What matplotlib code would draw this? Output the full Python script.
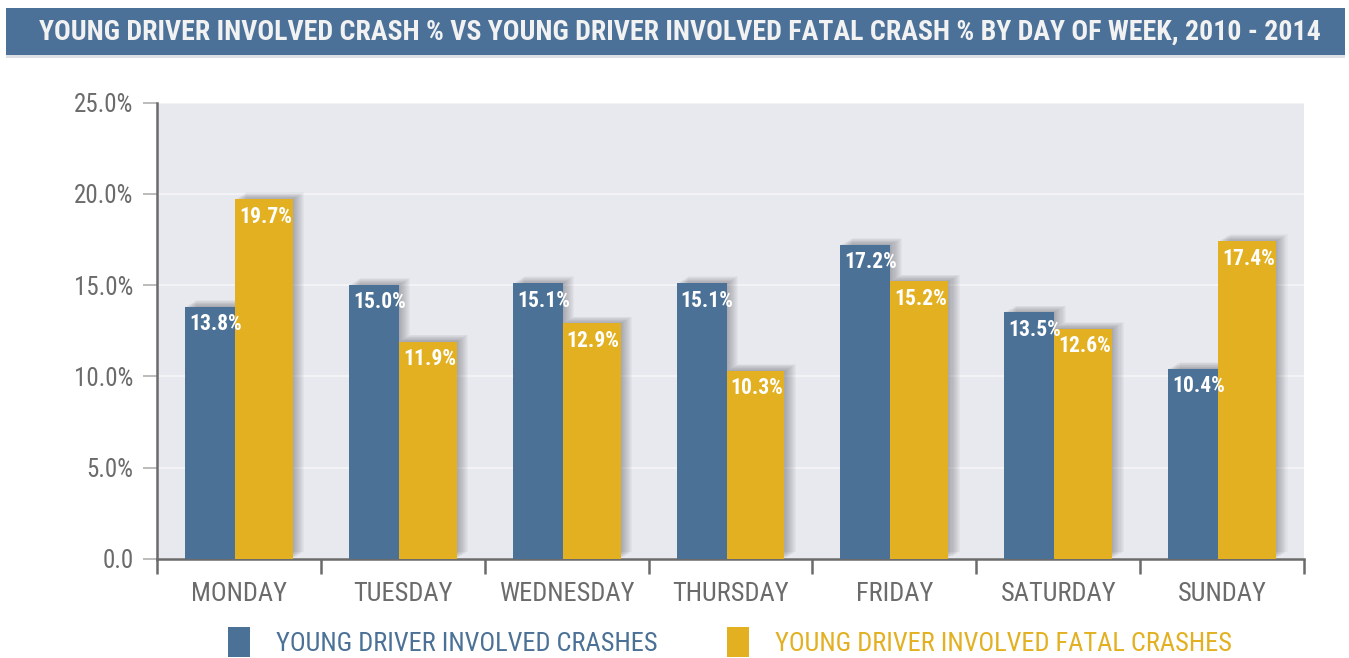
import matplotlib
matplotlib.use("Agg")
import matplotlib.pyplot as plt
from matplotlib import font_manager
from matplotlib.patches import Rectangle
import matplotlib.patheffects as pe

# ---- data ----
days = ["MONDAY", "TUESDAY", "WEDNESDAY", "THURSDAY", "FRIDAY", "SATURDAY", "SUNDAY"]
crashes = [13.8, 15.0, 15.1, 15.1, 17.2, 13.5, 10.4]
fatal = [19.7, 11.9, 12.9, 10.3, 15.2, 12.6, 17.4]
crash_labels = ["13.8%", "15.0%", "15.1%", "15.1%", "17.2%", "13.5%", "10.4%"]
fatal_labels = ["19.7%", "11.9%", "12.9%", "10.3%", "15.2%", "12.6%", "17.4%"]
yticks = [0, 5, 10, 15, 20, 25]
ytick_labels = ["0.0", "5.0%", "10.0%", "15.0%", "20.0%", "25.0%"]
series_names = ["YOUNG DRIVER INVOLVED CRASHES", "YOUNG DRIVER INVOLVED FATAL CRASHES"]
title = "YOUNG DRIVER INVOLVED CRASH % VS YOUNG DRIVER INVOLVED FATAL CRASH % BY DAY OF WEEK, 2010 - 2014"

BLUE = "#4b7196"
YELLOW = "#e2b020"
GRAY = "#6b6b6b"
BG = "#e8e8ef"

def pick_font(cands):
    for c in cands:
        try:
            font_manager.findfont(font_manager.FontProperties(family=c), fallback_to_default=False)
            return c
        except Exception:
            pass
    return "DejaVu Sans"

FONT = pick_font(["Liberation Sans Narrow", "Roboto Condensed", "Liberation Sans"])
plt.rcParams["font.family"] = [FONT, "DejaVu Sans"]

W, H = 1349, 658
fig = plt.figure(figsize=(W / 100, H / 100), dpi=100)
fig.patch.set_facecolor("white")

def fx(px):
    return px / W

def fy(py):
    return 1 - py / H

# banner
fig.patches.append(Rectangle((fx(6), fy(58)), fx(1345) - fx(6), fy(55) - fy(58),
                             transform=fig.transFigure, facecolor="#dde1e6", edgecolor="none", zorder=0))
fig.patches.append(Rectangle((fx(6), fy(55)), fx(1345) - fx(6), fy(8) - fy(55),
                             transform=fig.transFigure, facecolor="#4c7198", edgecolor="none", zorder=1))
t = fig.text(fx(680), fy(32), title, ha="center", va="center", color="#f2f2f2",
             fontsize=20, fontweight="bold", zorder=2)
fig.canvas.draw()
bb = t.get_window_extent()
t.set_fontsize(20 * 1280 / bb.width)

# axes
left, right, top, bottom = 157, 1304, 102.7, 558.7
ax = fig.add_axes([fx(left), fy(bottom), fx(right) - fx(left), fy(top) - fy(bottom)])
ax.set_facecolor(BG)
ax.set_xlim(-0.5, len(days) - 0.5)
ax.set_ylim(0, 25)

for s in ["top", "right"]:
    ax.spines[s].set_visible(False)
for s in ["left", "bottom"]:
    ax.spines[s].set_color(GRAY)
    ax.spines[s].set_linewidth(1.8)

ax.set_yticks(yticks)
ax.set_yticklabels(ytick_labels)
ax.tick_params(axis="y", direction="out", length=10, width=1.2, color="#b0b0b0",
               labelsize=18, labelcolor=GRAY, pad=7)
ax.yaxis.grid(True, color="#f3f3f6", linewidth=1.5)
ax.set_axisbelow(True)

ax.set_xticks(range(len(days)))
ax.set_xticklabels(days)
ax.tick_params(axis="x", which="major", length=0, labelsize=19, labelcolor=GRAY, pad=17)
ax.set_xticks([i - 0.5 for i in range(len(days) + 1)], minor=True)
ax.tick_params(axis="x", which="minor", direction="out", length=11, width=1.8, color=GRAY)

# bars
seg = 163.9
bw_blue = 50 / seg
bw_yel = 58 / seg
b_left = -54 / seg
boundary = b_left + bw_blue

shadow = []
for k in range(1, 12):
    shadow.append(pe.SimplePatchShadow(offset=(k * 0.75, k * 0.45), shadow_rgbFace="#50505a", alpha=0.045))
shadow.append(pe.Normal())

xs = list(range(len(days)))
bars1 = ax.bar([x + b_left for x in xs], crashes, width=bw_blue, align="edge",
               color=BLUE, zorder=3, label=series_names[0])
bars2 = ax.bar([x + boundary for x in xs], fatal, width=bw_yel, align="edge",
               color=YELLOW, zorder=4, label=series_names[1])
for b in list(bars1) + list(bars2):
    b.set_path_effects(shadow)

for bars, labels in [(bars1, crash_labels), (bars2, fatal_labels)]:
    for b, lab in zip(bars, labels):
        ax.annotate(lab, (b.get_x(), b.get_height()), xytext=(3, -4.5),
                    textcoords="offset points", ha="left", va="top", color="white",
                    fontsize=15.5, fontweight="bold", zorder=6)

# legend
h1 = Rectangle((0, 0), 1, 1, facecolor=BLUE, edgecolor="none")
h2 = Rectangle((0, 0), 1, 1, facecolor=YELLOW, edgecolor="none")
leg = fig.legend([h1, h2], series_names, loc="center", bbox_to_anchor=(fx(730), fy(642)),
                 ncol=2, frameon=False, fontsize=19, handlelength=0.85, handleheight=1.4,
                 handletextpad=1.0, columnspacing=2.6)
for txt, c in zip(leg.get_texts(), [BLUE, YELLOW]):
    txt.set_color(c)

fig.savefig("out.png", dpi=100, facecolor="white")
